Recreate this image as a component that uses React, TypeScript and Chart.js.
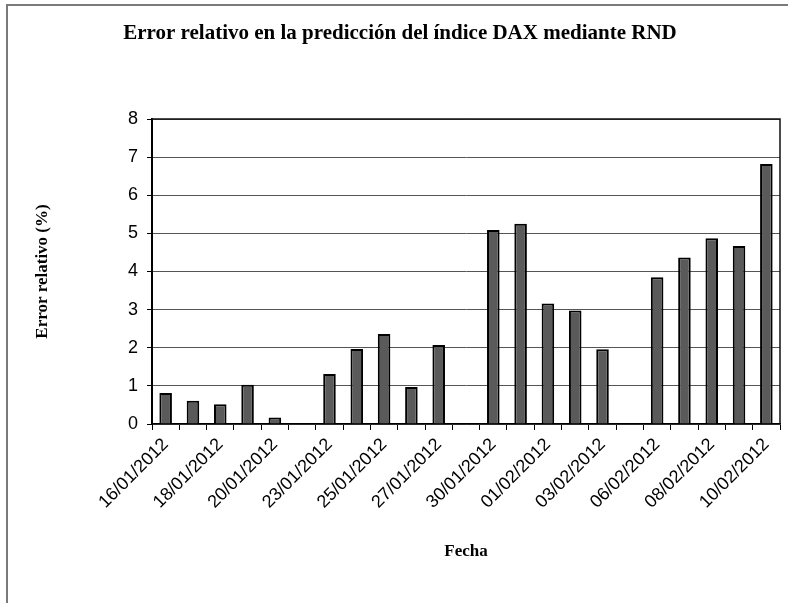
import React, { useEffect, useRef } from "react";
import { Chart, registerables } from "chart.js";

Chart.register(...registerables);

const categories: string[] = [
  "16/01/2012", "17/01/2012", "18/01/2012", "19/01/2012", "20/01/2012", "",
  "23/01/2012", "24/01/2012", "25/01/2012", "26/01/2012", "27/01/2012", "",
  "30/01/2012", "31/01/2012", "01/02/2012", "02/02/2012", "03/02/2012", "",
  "06/02/2012", "07/02/2012", "08/02/2012", "09/02/2012", "10/02/2012",
];

const errorValues: (number | null)[] = [
  0.81, 0.61, 0.52, 1.03, 0.17, null,
  1.31, 1.97, 2.36, 0.97, 2.07, null,
  5.09, 5.25, 3.16, 2.98, 1.96, null,
  3.85, 4.37, 4.87, 4.67, 6.82,
];

const titleText = "Error relativo en la predicción del índice DAX mediante RND";
const yTitle = "Error relativo (%)";
const xTitle = "Fecha";

const frameBorder = {
  id: "frameBorder",
  afterDraw(chart: any) {
    const { ctx, chartArea } = chart;
    ctx.save();
    ctx.strokeStyle = "#111";
    ctx.lineWidth = 1.5;
    ctx.beginPath();
    ctx.moveTo(chartArea.left, chartArea.top);
    ctx.lineTo(chartArea.right, chartArea.top);
    ctx.lineTo(chartArea.right, chartArea.bottom);
    ctx.stroke();
    ctx.restore();
  },
};

export default function App() {
  const ref = useRef<HTMLCanvasElement | null>(null);

  useEffect(() => {
    if (!ref.current) return;
    const serif = "'Liberation Serif', 'DejaVu Serif', serif";
    const sans = "'Liberation Sans', Arial, sans-serif";
    const chart = new Chart(ref.current, {
      type: "bar",
      data: {
        labels: categories,
        datasets: [
          {
            data: errorValues,
            backgroundColor: "#5a5a5a",
            borderColor: "#000",
            borderWidth: 2,
            barPercentage: 0.46,
            categoryPercentage: 1,
          },
        ],
      },
      options: {
        responsive: false,
        animation: false,
        layout: { padding: { left: 20, right: 8, top: 0, bottom: 0 } },
        plugins: {
          legend: { display: false },
          tooltip: { enabled: false },
          title: {
            display: true,
            text: titleText,
            color: "#000",
            font: { family: serif, size: 21, weight: "bold", lineHeight: 1.2 },
            padding: { top: 21, bottom: 72.8 },
          },
        },
        scales: {
          x: {
            afterFit(scale: any) {
              scale.height = 179;
            },
            grid: {
              drawOnChartArea: false,
              drawTicks: true,
              tickLength: 6,
              color: "#000",
              offset: true,
            },
            border: { color: "#000", width: 1.5 },
            ticks: {
              autoSkip: false,
              minRotation: 45,
              maxRotation: 45,
              color: "#000",
              font: { family: sans, size: 18 },
              padding: 4,
              callback: (_v: any, i: number) => (i % 2 === 0 ? categories[i] : ""),
            },
            title: {
              display: true,
              text: xTitle,
              color: "#000",
              font: { family: serif, size: 17, weight: "bold", lineHeight: 1.2 },
              padding: { top: 0, bottom: 41 },
            },
          },
          y: {
            min: 0,
            max: 8,
            afterFit(scale: any) {
              scale.width = 132;
            },
            grid: {
              color: "#555",
              lineWidth: 1,
              drawTicks: true,
              tickLength: 5,
              tickColor: "#000",
            },
            border: { color: "#000", width: 2 },
            ticks: {
              stepSize: 1,
              color: "#000",
              font: { family: sans, size: 18 },
              padding: 9,
            },
            title: {
              display: true,
              text: yTitle,
              color: "#000",
              font: { family: serif, size: 17, weight: "bold", lineHeight: 1.2 },
              padding: { top: 12, bottom: 0 },
            },
          },
        },
      },
      plugins: [frameBorder],
    });
    return () => chart.destroy();
  }, []);

  return (
    <div style={{ position: "absolute", left: 0, top: 0, width: 788, height: 603, background: "#fff", overflow: "hidden" }}>
      <div
        style={{
          position: "absolute",
          left: 6,
          top: 4,
          width: 800,
          height: 620,
          borderTop: "2px solid #7a7a7a",
          borderLeft: "2px solid #7a7a7a",
        }}
      />
      <canvas ref={ref} width={788} height={603} style={{ position: "absolute", left: 0, top: 0 }} />
    </div>
  );
}
